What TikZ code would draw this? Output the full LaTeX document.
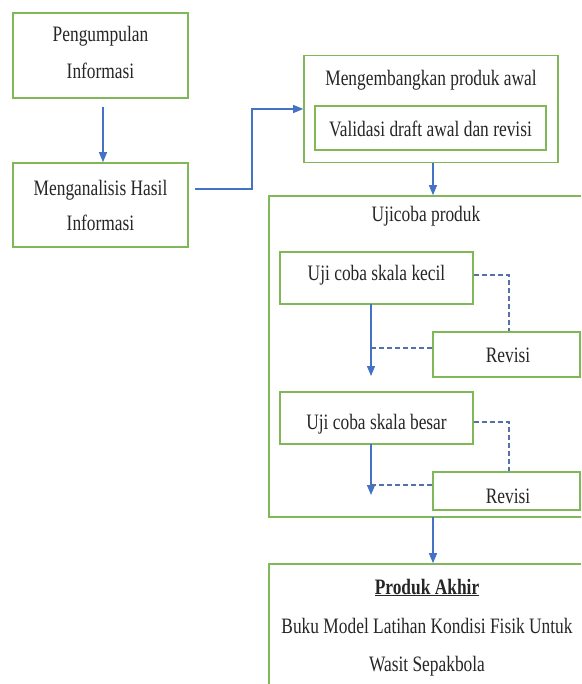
\documentclass[tikz,border=0pt]{standalone}
\usepackage{fontspec}
\setmainfont[FakeStretch=0.79]{Liberation Serif}
\usetikzlibrary{arrows.meta,calc}
\definecolor{boxgreen}{RGB}{128,184,88}
\definecolor{arrblue}{RGB}{68,114,196}
\definecolor{dashblue}{RGB}{84,112,170}
\begin{document}
\begin{tikzpicture}[x=1pt,y=-1pt,
  box/.style={draw=boxgreen,line width=1.6pt,fill=none,inner sep=0pt},
  txt/.style={anchor=base,inner sep=0pt,font=\fontsize{22}{26}\selectfont,text=black!85},
  flow/.style={draw=arrblue,line width=1.3pt,-{Triangle[length=10pt,width=8pt]}},
  back/.style={draw=dashblue,line width=1.2pt,dash pattern=on 5pt off 3pt}]
\useasboundingbox (0,0) rectangle (581,684);
\clip (0,0) rectangle (581,684);
\fill[white] (0,0) rectangle (581,684);
% boxes
\node[box,minimum width=175pt,minimum height=85pt] (b1) at (100.5,55.5) {};
\node[box,minimum width=175pt,minimum height=84pt] (b2) at (100.5,205) {};
\node[box,minimum width=254pt,minimum height=107pt] (b3) at (431,109) {};
\node[box,minimum width=231pt,minimum height=44pt] (b3i) at (430.5,128) {};
\node[box,minimum width=330pt,minimum height=321pt] (big) at (434,356.5) {};
\node[box,minimum width=193pt,minimum height=52pt] (kecil) at (376.5,278) {};
\node[box,minimum width=147pt,minimum height=45pt] (rev1) at (506.5,354.5) {};
\node[box,minimum width=193pt,minimum height=52pt] (besar) at (376.5,418) {};
\node[box,minimum width=147pt,minimum height=38pt] (rev2) at (506.5,491) {};
\node[box,minimum width=330pt,minimum height=140pt] (final) at (434,634) {};
% texts
\node[txt] (t1a) at (100.5,42) {Pengumpulan};
\node[txt] (t1b) at (100.5,79) {Informasi};
\node[txt] (t2a) at (100.5,196) {Menganalisis Hasil};
\node[txt] (t2b) at (100.5,231) {Informasi};
\node[txt] (t3) at (431,86) {Mengembangkan produk awal};
\node[txt] (t3i) at (430.5,137) {Validasi draft awal dan revisi};
\node[txt] (tbig) at (426,222) {Ujicoba produk};
\node[txt] (tk) at (376.5,280) {Uji coba skala kecil};
\node[txt] (tr1) at (508,362) {Revisi};
\node[txt] (tb) at (376.5,429) {Uji coba skala besar};
\node[txt] (tr2) at (508,503) {Revisi};
\node[txt] (tf1) at (427,594) {\underline{\textbf{Produk Akhir}}};
\node[txt] (tf2) at (427,633) {Buku Model Latihan Kondisi Fisik Untuk};
\node[txt] (tf3) at (427,671) {Wasit Sepakbola};
% connectors
\coordinate (s1) at (103,107);
\draw[flow] (s1) -- (b2.north -| s1);
\coordinate (s2) at (195,189);
\coordinate (m2) at (252,189);
\draw[flow] (s2) -- (m2) |- (b3.west);
\coordinate (s3) at (433,163);
\draw[flow] (s3) -- (big.north -| s3);
\coordinate (a1) at (371,376);
\coordinate (k1) at (371,304);
\draw[flow] (k1) -- (a1);
\coordinate (a2) at (371,495);
\coordinate (k2) at (371,444);
\draw[flow] (k2) -- (a2);
\draw[back] ($(kecil.east)+(0,-3)$) -| ($(rev1.north)+(2.5,0)$);
\draw[back] ($(rev1.west)+(0,-6.5)$) -- (371,348);
\draw[back] ($(besar.east)+(0,4)$) -| ($(rev2.north)+(2.5,0)$);
\draw[back] ($(rev2.west)+(0,-6)$) -- (371,485);
\coordinate (f1) at (433,517);
\draw[flow] (f1) -- (final.north -| f1);
\end{tikzpicture}
\end{document}
